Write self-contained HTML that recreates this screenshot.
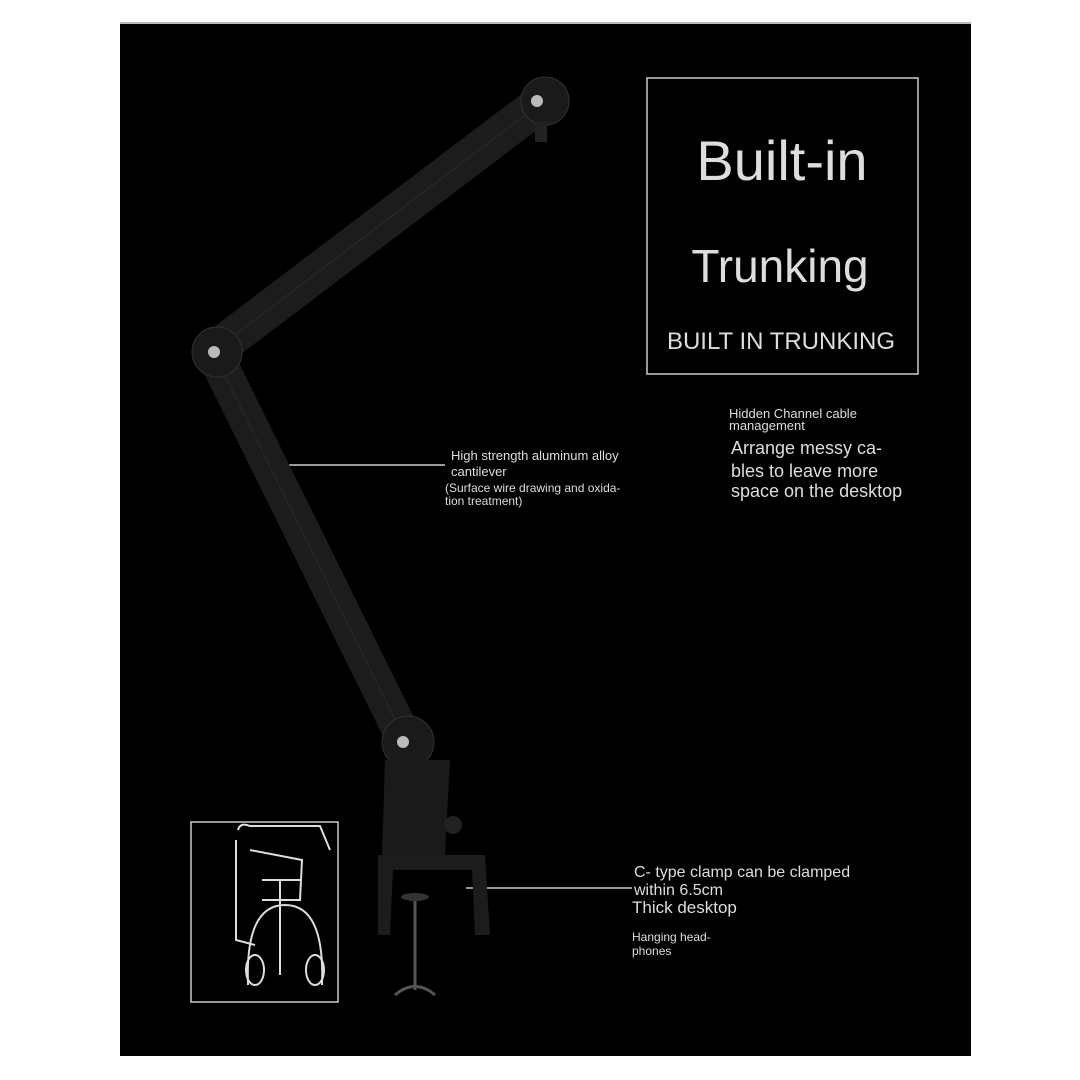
<!DOCTYPE html>
<html><head><style>
html,body{margin:0;padding:0;background:#fff;width:1080px;height:1080px;overflow:hidden}
svg{display:block}
text{font-family:"Liberation Sans",sans-serif;fill:#ddd}
</style></head><body>
<svg width="1080" height="1080" viewBox="0 0 1080 1080">
<rect x="0" y="0" width="1080" height="1080" fill="#fff"/>
<rect x="120" y="22" width="851" height="1034" fill="#000"/>
<rect x="120" y="22" width="851" height="2" fill="#bbb"/>
<!-- title box -->
<rect x="647" y="78" width="271" height="296" fill="none" stroke="#ccc" stroke-width="1.5"/>
<text x="782" y="180" font-size="56" text-anchor="middle" fill="#e6e6e6">Built-in</text>
<text x="780" y="282" font-size="46" text-anchor="middle" fill="#e6e6e6">Trunking</text>
<text x="781" y="349" font-size="24" text-anchor="middle" fill="#e6e6e6">BUILT IN TRUNKING</text>
<text x="729" y="418" font-size="13">Hidden Channel cable</text>
<text x="729" y="430" font-size="13">management</text>
<text x="731" y="454" font-size="18">Arrange messy ca-</text>
<text x="731" y="477" font-size="18">bles to leave more</text>
<text x="731" y="497" font-size="18">space on the desktop</text>
<text x="451" y="460" font-size="13">High strength aluminum alloy</text>
<text x="451" y="476" font-size="13">cantilever</text>
<text x="445" y="492" font-size="12">(Surface wire drawing and oxida-</text>
<text x="445" y="505" font-size="12">tion treatment)</text>
<line x1="282" y1="465" x2="445" y2="465" stroke="#ccc" stroke-width="1.5"/>
<text x="634" y="877" font-size="16">C- type clamp can be clamped</text>
<text x="634" y="895" font-size="16">within 6.5cm</text>
<text x="632" y="913" font-size="17">Thick desktop</text>
<text x="632" y="941" font-size="12">Hanging head-</text>
<text x="632" y="955" font-size="12">phones</text>
<line x1="466" y1="888" x2="632" y2="888" stroke="#ccc" stroke-width="1.5"/>
<!-- arm -->
<g stroke="#1c1c1c" stroke-linecap="butt">
<line x1="545" y1="100" x2="215" y2="350" stroke-width="38"/>
<line x1="215" y1="355" x2="405" y2="740" stroke-width="36"/>
</g>
<g stroke="#2a2a2a" stroke-width="1">
<line x1="545" y1="100" x2="215" y2="350"/>
<line x1="215" y1="355" x2="405" y2="740"/>
</g>
<!-- joints -->
<circle cx="545" cy="101" r="24" fill="#1a1a1a" stroke="#333"/>
<circle cx="537" cy="101" r="6" fill="#bbb"/>
<rect x="535" y="122" width="12" height="20" fill="#222"/>
<circle cx="217" cy="352" r="25" fill="#1a1a1a" stroke="#333"/>
<circle cx="214" cy="352" r="6" fill="#bbb"/>
<circle cx="408" cy="742" r="26" fill="#1a1a1a" stroke="#333"/>
<circle cx="403" cy="742" r="6" fill="#bbb"/>
<!-- base -->
<path d="M385 760 L450 760 L445 855 L382 855 Z" fill="#1a1a1a"/>
<circle cx="453" cy="825" r="9" fill="#222"/>
<path d="M378 855 L485 855 L490 935 L475 935 L472 870 L393 870 L390 935 L378 935 Z" fill="#1c1c1c"/>
<line x1="415" y1="900" x2="415" y2="990" stroke="#555" stroke-width="3"/>
<ellipse cx="415" cy="897" rx="14" ry="4" fill="#333"/>
<path d="M395 995 Q415 978 435 995" fill="none" stroke="#555" stroke-width="3"/>
<!-- inset -->
<rect x="191" y="822" width="147" height="180" fill="#000" stroke="#ccc" stroke-width="1.5"/>
<g fill="none" stroke="#ddd" stroke-width="2">
<path d="M238 830 Q240 822 250 826 L320 826 L330 850"/>
<path d="M236 840 L236 940 L255 945"/>
<line x1="262" y1="880" x2="300" y2="880"/>
<line x1="280" y1="880" x2="280" y2="975"/>
<path d="M248 985 Q245 905 285 905 Q325 905 322 985"/>
<ellipse cx="255" cy="970" rx="9" ry="15"/>
<ellipse cx="315" cy="970" rx="9" ry="15"/>
<path d="M262 900 L300 900 L302 860 L250 850"/>
</g>
</svg>
</body></html>
